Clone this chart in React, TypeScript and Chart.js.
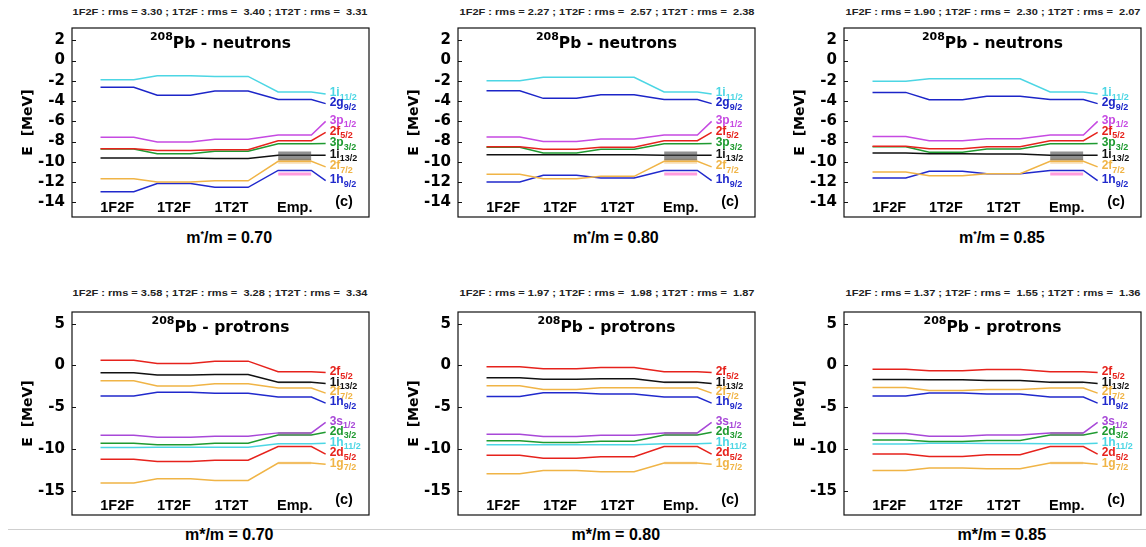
import React, { useEffect, useRef } from "react";
import { Chart, registerables } from "chart.js";
Chart.register(...registerables);

// ---------- shared ----------
const MODELS = ["1F2F", "1T2F", "1T2T", "Emp."];
const MODEL_X = [1.52, 3.43, 5.37, 7.5];
const HALF = 0.56;
const END_X = 8.54;
const MASSES = ["0.70", "0.80", "0.85"];

// ---------- neutrons ----------
const N_MAIN = ["1i", "2g", "3p", "2f", "3p", "1i", "2f", "1h"];
const N_SUB = ["11/2", "9/2", "1/2", "5/2", "3/2", "13/2", "7/2", "9/2"];
const N_COLORS = ["#4cd6e4", "#1c25c8", "#c64ae2", "#e6221c", "#1f9a30", "#111111", "#f0b446", "#2029cc"];
const N_TICKS = [-14, -12, -10, -8, -6, -4, -2, 0, 2];
const N_RANGE = [-15.45, 3.22];
const N_EMP = [-3.1, -3.85, -7.35, -7.92, -8.22, -9.35, -9.95, -10.85];
const N_LABEL_Y = [-3.3, -4.25, -6.0, -7.1, -8.2, -9.35, -10.5, -11.85];
const N_BAND_HI = [-8.97, -9.7, -11.05];
const N_BAND_LO = [-9.85, -10.2, -11.35];
const N_BAND_COLORS = ["rgba(70,70,70,0.6)", "rgba(240,180,80,0.45)", "rgba(255,90,200,0.6)"];

const N070_1F2F = [-1.88, -2.64, -7.58, -8.7, -8.74, -9.62, -11.68, -12.95];
const N070_1T2F = [-1.49, -3.43, -8.05, -8.88, -9.21, -9.62, -12.0, -12.15];
const N070_1T2T = [-1.56, -3.0, -7.78, -8.8, -8.96, -9.66, -11.88, -12.52];
const N080_1F2F = [-1.98, -2.97, -7.55, -8.5, -8.57, -9.29, -11.23, -12.0];
const N080_1T2F = [-1.65, -3.73, -7.98, -8.75, -9.13, -9.29, -11.66, -11.33];
const N080_1T2T = [-1.65, -3.37, -7.74, -8.57, -8.75, -9.29, -11.43, -11.6];
const N085_1F2F = [-2.05, -3.14, -7.51, -8.47, -8.52, -9.13, -11.0, -11.6];
const N085_1T2F = [-1.79, -3.86, -7.91, -8.7, -9.06, -9.2, -11.37, -10.94];
const N085_1T2T = [-1.79, -3.53, -7.71, -8.5, -8.73, -9.23, -11.17, -11.17];
const RMS_N070 = [3.3, 3.4, 3.31];
const RMS_N080 = [2.27, 2.57, 2.38];
const RMS_N085 = [1.9, 2.3, 2.07];

// ---------- protons ----------
const P_MAIN = ["2f", "1i", "2f", "1h", "3s", "2d", "1h", "2d", "1g"];
const P_SUB = ["5/2", "13/2", "7/2", "9/2", "1/2", "3/2", "11/2", "5/2", "7/2"];
const P_COLORS = ["#e6221c", "#111111", "#f0b446", "#2029cc", "#a848d8", "#1f9a30", "#4cd6e4", "#e6221c", "#f0b446"];
const P_TICKS = [-15, -10, -5, 0, 5];
const P_RANGE = [-17.86, 6.39];
const P_EMP = [-0.75, -2.0, -2.68, -3.77, -8.05, -8.3, -9.36, -9.68, -11.65];
const P_LABEL_Y = [-0.85, -2.14, -3.3, -4.5, -6.8, -7.98, -9.29, -10.58, -11.8];
const P_BAND_HI = [-1.9, -7.95, -11.5];
const P_BAND_LO = [-2.12, -8.4, -11.8];
const P_BAND_COLORS = ["rgba(40,40,40,0.45)", "rgba(120,100,130,0.4)", "rgba(240,180,80,0.45)"];

const P070_1F2F = [0.63, -0.87, -1.83, -3.65, -8.33, -9.29, -9.8, -11.19, -14.05];
const P070_1T2F = [0.24, -1.15, -2.46, -3.21, -8.57, -9.48, -9.76, -11.47, -13.53];
const P070_1T2T = [0.52, -1.07, -2.18, -3.33, -8.45, -9.29, -9.76, -11.31, -13.73];
const P080_1F2F = [-0.16, -1.47, -2.42, -3.69, -8.21, -9.0, -9.48, -10.71, -12.94];
const P080_1T2F = [-0.4, -1.63, -2.86, -3.25, -8.49, -9.2, -9.48, -11.07, -12.54];
const P080_1T2T = [-0.24, -1.59, -2.66, -3.41, -8.33, -9.05, -9.48, -10.91, -12.7];
const P085_1F2F = [-0.44, -1.67, -2.62, -3.65, -8.13, -8.89, -9.37, -10.56, -12.54];
const P085_1T2F = [-0.63, -1.71, -2.98, -3.29, -8.45, -9.09, -9.29, -10.87, -12.26];
const P085_1T2T = [-0.48, -1.79, -2.86, -3.41, -8.29, -8.97, -9.33, -10.67, -12.34];
const RMS_P070 = [3.58, 3.28, 3.34];
const RMS_P080 = [1.97, 1.98, 1.87];
const RMS_P085 = [1.37, 1.55, 1.36];

// ---------- layout ----------
const COL_LEFT = [71.7, 458.3, 844.3];
const ROW_TOP = [28.3, 311.7];
const ROW_H = [189, 203.3];
const BOX_W = 297;
const AXIS_W = 62;
const PAD = 3;

type Spec = {
  col: number;
  row: number;
  species: string;
  range: number[];
  ticks: number[];
  main: string[];
  sub: string[];
  colors: string[];
  models: number[][];
  emp: number[];
  labelY: number[];
  bandHi: number[];
  bandLo: number[];
  bandColors: string[];
  rms: number[];
  mass: string;
};

const NEUT = { species: "neutrons", range: N_RANGE, ticks: N_TICKS, main: N_MAIN, sub: N_SUB, colors: N_COLORS, emp: N_EMP, labelY: N_LABEL_Y, bandHi: N_BAND_HI, bandLo: N_BAND_LO, bandColors: N_BAND_COLORS };
const PROT = { species: "protrons", range: P_RANGE, ticks: P_TICKS, main: P_MAIN, sub: P_SUB, colors: P_COLORS, emp: P_EMP, labelY: P_LABEL_Y, bandHi: P_BAND_HI, bandLo: P_BAND_LO, bandColors: P_BAND_COLORS };

const SPECS: Spec[] = [
  { ...NEUT, col: 0, row: 0, models: [N070_1F2F, N070_1T2F, N070_1T2T], rms: RMS_N070, mass: MASSES[0] },
  { ...NEUT, col: 1, row: 0, models: [N080_1F2F, N080_1T2F, N080_1T2T], rms: RMS_N080, mass: MASSES[1] },
  { ...NEUT, col: 2, row: 0, models: [N085_1F2F, N085_1T2F, N085_1T2T], rms: RMS_N085, mass: MASSES[2] },
  { ...PROT, col: 0, row: 1, models: [P070_1F2F, P070_1T2F, P070_1T2T], rms: RMS_P070, mass: MASSES[0] },
  { ...PROT, col: 1, row: 1, models: [P080_1F2F, P080_1T2F, P080_1T2T], rms: RMS_P080, mass: MASSES[1] },
  { ...PROT, col: 2, row: 1, models: [P085_1F2F, P085_1T2F, P085_1T2T], rms: RMS_P085, mass: MASSES[2] },
];

const SANS = "'Liberation Sans', Arial, Helvetica, sans-serif";
const DEJA = "'DejaVu Sans', sans-serif";

function makePlugin(spec: Spec) {
  return {
    id: "levelText" + spec.col + spec.row,
    afterDraw(chart: any) {
      const { ctx, chartArea: a, scales } = chart;
      const xs = scales.x;
      const ys = scales.y;
      ctx.save();
      // frame
      ctx.strokeStyle = "#111";
      ctx.lineWidth = 1.2;
      ctx.strokeRect(a.left, a.top, a.right - a.left, a.bottom - a.top);
      // inner ticks
      ctx.lineWidth = 1;
      spec.ticks.forEach((t) => {
        const y = Math.round(ys.getPixelForValue(t)) + 0.5;
        ctx.beginPath();
        ctx.moveTo(a.left, y);
        ctx.lineTo(a.left + 4, y);
        ctx.stroke();
      });
      // title
      ctx.fillStyle = "#000";
      ctx.textBaseline = "middle";
      ctx.textAlign = "left";
      const supFont = `bold 11px ${DEJA}`;
      const mainFont = `bold 15.5px ${DEJA}`;
      const mainTxt = `Pb - ${spec.species}`;
      ctx.font = supFont;
      const w1 = ctx.measureText("208").width;
      ctx.font = mainFont;
      const w2 = ctx.measureText(mainTxt).width;
      const cx = (a.left + a.right) / 2;
      const sx = cx - (w1 + w2) / 2;
      ctx.font = supFont;
      ctx.fillText("208", sx, a.top + 9);
      ctx.font = mainFont;
      ctx.fillText(mainTxt, sx + w1, a.top + 15.5);
      // model labels
      ctx.font = `bold 14.5px ${SANS}`;
      ctx.textAlign = "center";
      MODELS.forEach((m, i) => {
        ctx.fillText(m, xs.getPixelForValue(MODEL_X[i]), a.bottom - 9);
      });
      ctx.fillText("(c)", a.right - 25, a.bottom - 15);
      // level labels
      ctx.textAlign = "left";
      const lx = xs.getPixelForValue(END_X) + 4;
      spec.main.forEach((m, i) => {
        const y = ys.getPixelForValue(spec.labelY[i]);
        ctx.fillStyle = spec.colors[i];
        ctx.font = `bold 12px ${SANS}`;
        ctx.fillText(m, lx, y - 1);
        const mw = ctx.measureText(m).width;
        ctx.font = `bold 9px ${SANS}`;
        ctx.fillText(spec.sub[i], lx + mw, y + 3.5);
      });
      ctx.restore();
    },
  };
}

function Panel({ spec }: { spec: Spec }) {
  const ref = useRef<HTMLCanvasElement | null>(null);
  const boxL = COL_LEFT[spec.col];
  const boxT = ROW_TOP[spec.row];
  const boxH = ROW_H[spec.row];
  const cw = AXIS_W + BOX_W + PAD;
  const ch = boxH + 2 * PAD;

  useEffect(() => {
    if (!ref.current) return;
    const datasets: any[] = [];
    // uncertainty bands on the empirical column
    spec.bandHi.forEach((hi, i) => {
      const x0 = MODEL_X[3] - HALF;
      const x1 = MODEL_X[3] + HALF;
      datasets.push({
        type: "line",
        data: [{ x: x0, y: hi }, { x: x1, y: hi }],
        borderWidth: 0,
        pointRadius: 0,
        fill: false,
        borderColor: "rgba(0,0,0,0)",
      });
      datasets.push({
        type: "line",
        data: [{ x: x0, y: spec.bandLo[i] }, { x: x1, y: spec.bandLo[i] }],
        borderWidth: 0,
        pointRadius: 0,
        fill: "-1",
        borderColor: "rgba(0,0,0,0)",
        backgroundColor: spec.bandColors[i],
      });
    });
    spec.main.forEach((_, i) => {
      const vals = [spec.models[0][i], spec.models[1][i], spec.models[2][i], spec.emp[i]];
      const pts: { x: number; y: number }[] = [];
      vals.forEach((v, k) => {
        pts.push({ x: MODEL_X[k] - HALF, y: v });
        pts.push({ x: MODEL_X[k] + HALF, y: v });
      });
      pts.push({ x: END_X, y: spec.labelY[i] });
      datasets.push({
        type: "line",
        data: pts,
        borderColor: spec.colors[i],
        borderWidth: 1.5,
        pointRadius: 0,
        fill: false,
        tension: 0,
      });
    });

    const chart = new Chart(ref.current, {
      type: "line",
      data: { datasets },
      options: {
        animation: false,
        responsive: false,
        maintainAspectRatio: false,
        devicePixelRatio: 1,
        layout: { padding: { left: 0, right: PAD, top: PAD, bottom: PAD } },
        plugins: { legend: { display: false }, tooltip: { enabled: false } },
        scales: {
          x: { type: "linear", min: 0, max: 10, display: false },
          y: {
            type: "linear",
            min: spec.range[0],
            max: spec.range[1],
            afterBuildTicks: (s: any) => {
              s.ticks = spec.ticks.map((v) => ({ value: v }));
            },
            afterFit: (s: any) => {
              s.width = AXIS_W;
              s.paddingTop = 0;
              s.paddingBottom = 0;
            },
            grid: { display: false, drawTicks: false },
            border: { display: false },
            ticks: {
              color: "#000",
              padding: 7,
              font: { family: DEJA, size: 15, weight: "bold" },
            },
            title: {
              display: true,
              text: "E  [MeV]",
              color: "#000",
              font: { family: DEJA, size: 14, weight: "bold" },
              padding: { top: 10, bottom: 0 },
            },
          },
        },
      },
      plugins: [makePlugin(spec)],
    } as any);
    return () => chart.destroy();
  }, [spec]);

  const header = `1F2F : rms = ${spec.rms[0].toFixed(2)} ; 1T2F : rms =  ${spec.rms[1].toFixed(2)} ; 1T2T : rms =  ${spec.rms[2].toFixed(2)}`;
  const cx = boxL + BOX_W / 2;
  const headerY = spec.row === 0 ? 12 : 293.3;
  const footerY = spec.row === 0 ? 239 : 536;

  return (
    <>
      <div
        style={{
          position: "absolute",
          left: cx - 200,
          top: headerY - 6,
          width: 400,
          height: 12,
          lineHeight: "12px",
          textAlign: "center",
          whiteSpace: "pre",
          font: `bold 9.5px ${SANS}`,
          color: "#222",
          transform: "scaleX(1.16)",
          transformOrigin: "center",
        }}
      >
        {header}
      </div>
      <canvas
        ref={ref}
        width={cw}
        height={ch}
        style={{ position: "absolute", left: boxL - AXIS_W, top: boxT - PAD, width: cw, height: ch }}
      />
      <div
        style={{
          position: "absolute",
          left: cx + 9 - 100,
          top: footerY - 10,
          width: 200,
          height: 20,
          lineHeight: "20px",
          textAlign: "center",
          whiteSpace: "pre",
          font: `bold 16px ${SANS}`,
          color: "#000",
        }}
      >
        {spec.row === 0 ? (
          <>
            m<sup style={{ fontSize: "9px", verticalAlign: "6px", lineHeight: 0 }}>*</sup>/m = {spec.mass}
          </>
        ) : (
          <>m*/m = {spec.mass}</>
        )}
      </div>
    </>
  );
}

export default function App() {
  return (
    <div style={{ position: "absolute", left: 0, top: 0, width: 1146, height: 547, background: "#fff", overflow: "hidden" }}>
      <div style={{ position: "absolute", left: 8, top: 529, width: 1138, height: 1, background: "#cfcfcf" }} />
      {SPECS.map((s, i) => (
        <Panel key={i} spec={s} />
      ))}
    </div>
  );
}
